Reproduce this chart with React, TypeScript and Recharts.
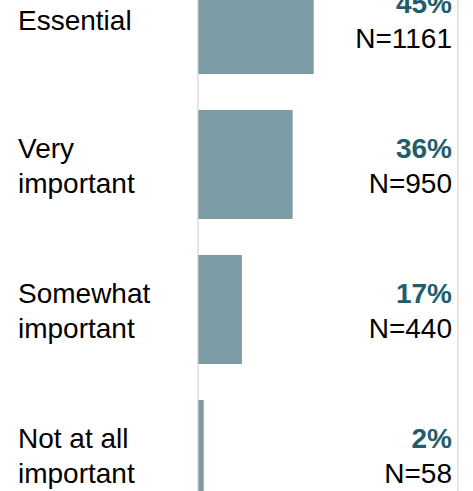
import React from "react";
import { BarChart, Bar, XAxis, YAxis } from "recharts";

const categories = ["Essential", "Very\nimportant", "Somewhat\nimportant", "Not at all\nimportant"];
const shares = [44.5, 36.4, 16.9, 2.2];
const pctLabels = ["45%", "36%", "17%", "2%"];
const counts = [1161, 950, 440, 58];

const data = categories.map((c, i) => ({ category: c, share: shares[i], pct: pctLabels[i], n: counts[i] }));

const FONT = "'Liberation Sans', Arial, sans-serif";

const LeftTick = (props: any) => {
  const { y, payload } = props;
  const lines = String(payload.value).split("\n");
  if (lines.length === 1) {
    return (
      <text x={18} y={y + 10} fontFamily={FONT} fontSize={28} fill="#000">
        {lines[0]}
      </text>
    );
  }
  return (
    <text fontFamily={FONT} fontSize={28} fill="#000">
      <tspan x={18} y={y - 6.5}>{lines[0]}</tspan>
      <tspan x={18} y={y + 28.5}>{lines[1]}</tspan>
    </text>
  );
};

const RightTick = (props: any) => {
  const { x, y, payload } = props;
  const d = data[payload.index];
  const tx = x - 6;
  return (
    <g>
      <text x={tx} y={y - 6.5} textAnchor="end" fontFamily={FONT} fontSize={28} fontWeight="bold" fill="#215d6b">
        {d.pct}
      </text>
      <text x={tx} y={y + 28.5} textAnchor="end" fontFamily={FONT} fontSize={28} fill="#000">
        {"N=" + d.n}
      </text>
    </g>
  );
};

export default function App() {
  return (
    <div style={{ position: "absolute", top: 0, left: 0, width: 473, height: 491, overflow: "hidden", background: "#fff" }}>
      <div style={{ position: "absolute", top: -53, left: 0 }}>
        <BarChart
          width={473}
          height={580}
          data={data}
          layout="vertical"
          margin={{ top: 0, right: 0, bottom: 0, left: 0 }}
          barSize={109}
        >
          <XAxis type="number" domain={[0, 100]} hide />
          <YAxis
            yAxisId="left"
            type="category"
            dataKey="category"
            width={198}
            axisLine={{ stroke: "#cccccc", strokeWidth: 1 }}
            tickLine={false}
            tick={<LeftTick />}
            interval={0}
          />
          <YAxis
            yAxisId="right"
            orientation="right"
            type="category"
            dataKey="category"
            width={15}
            axisLine={{ stroke: "#cccccc", strokeWidth: 1 }}
            tickLine={false}
            tickSize={0}
            tickMargin={0}
            tick={<RightTick />}
            interval={0}
          />
          <Bar dataKey="share" yAxisId="left" fill="#7b9ca5" isAnimationActive={false} />
        </BarChart>
      </div>
    </div>
  );
}
